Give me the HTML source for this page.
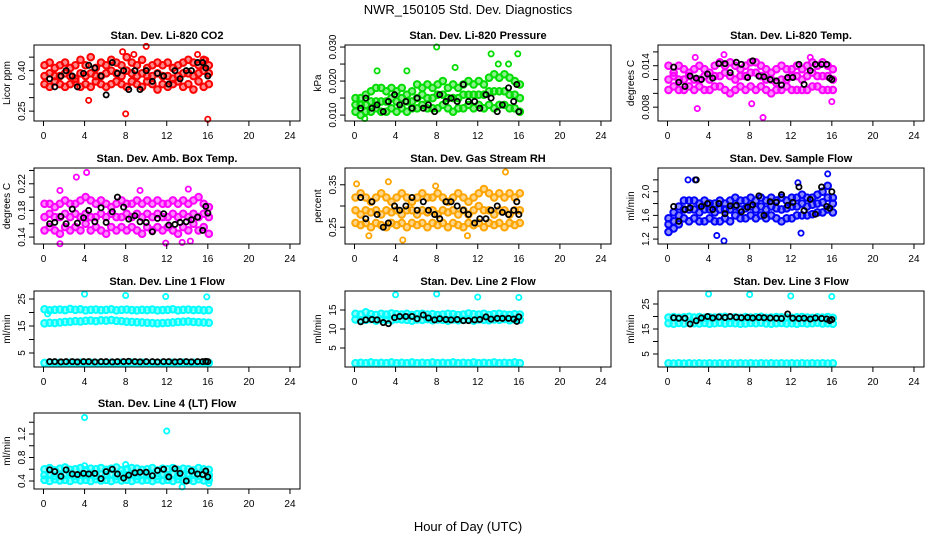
<!DOCTYPE html>
<html><head><meta charset="utf-8"><style>
html,body{margin:0;padding:0;background:#fff}
svg{display:block;font-family:"Liberation Sans",Arial,sans-serif}
</style></head><body>
<svg id="chart" width="936" height="540" viewBox="0 0 936 540">
<text x="468" y="14" text-anchor="middle" font-size="13">NWR_150105  Std. Dev. Diagnostics</text>
<text x="468" y="531" text-anchor="middle" font-size="13">Hour of Day (UTC)</text>
</svg>
<script>
const tA=[0.1,0.6,1.1,1.6,2.1,2.6,3.1,3.6,4.1,4.6,5.1,5.6,6.1,6.6,7.1,7.6,8.1,8.6,9.1,9.6,10.1,10.6,11.1,11.6,12.1,12.6,13.1,13.6,14.1,14.6,15.1,15.6,16.1];
const tK=[0.6,1.1,1.7,2.2,2.8,3.3,3.9,4.4,5.0,5.6,6.1,6.7,7.2,7.8,8.3,8.9,9.4,10.0,10.6,11.1,11.7,12.2,12.8,13.3,13.9,14.4,15.0,15.5,15.8,16.0];
const xTicks=[0,4,8,12,16,20,24];

const co2Hi=[0.42,0.43,0.41,0.42,0.43,0.41,0.42,0.44,0.42,0.45,0.41,0.43,0.42,0.44,0.43,0.42,0.45,0.43,0.42,0.44,0.41,0.42,0.43,0.42,0.43,0.41,0.42,0.43,0.44,0.43,0.42,0.44,0.42];
const co2Mid=[0.38,0.39,0.38,0.38,0.39,0.38,0.37,0.39,0.38,0.39,0.38,0.38,0.39,0.40,0.39,0.38,0.40,0.39,0.38,0.39,0.38,0.38,0.39,0.38,0.38,0.37,0.38,0.39,0.39,0.38,0.39,0.40,0.39];
const co2Lo=[0.35,0.34,0.36,0.35,0.34,0.35,0.36,0.34,0.35,0.34,0.36,0.35,0.34,0.35,0.36,0.35,0.34,0.36,0.35,0.34,0.36,0.35,0.33,0.35,0.34,0.35,0.36,0.34,0.35,0.33,0.36,0.34,0.35];
const co2Out=[[4.4,0.29],[8.0,0.24],[16.0,0.22],[10.0,0.49],[7.7,0.47],[8.8,0.46],[15.8,0.44],[15.0,0.46]];
const co2Blk=[0.37,0.34,0.38,0.40,0.38,0.34,0.39,0.42,0.41,0.38,0.31,0.43,0.39,0.40,0.33,0.40,0.33,0.40,0.36,0.39,0.38,0.35,0.40,0.37,0.40,0.40,0.43,0.43,0.41,0.38];

const prHi=[0.015,0.015,0.016,0.017,0.018,0.018,0.017,0.018,0.017,0.018,0.016,0.017,0.019,0.018,0.019,0.018,0.019,0.020,0.018,0.019,0.018,0.019,0.020,0.019,0.020,0.019,0.021,0.022,0.021,0.022,0.021,0.020,0.019];
const prMid=[0.013,0.013,0.013,0.014,0.014,0.014,0.014,0.015,0.014,0.015,0.014,0.014,0.015,0.016,0.015,0.015,0.016,0.016,0.015,0.015,0.015,0.016,0.016,0.016,0.016,0.016,0.017,0.017,0.017,0.017,0.016,0.016,0.015];
const prLo=[0.011,0.010,0.011,0.011,0.012,0.011,0.011,0.012,0.011,0.012,0.011,0.012,0.012,0.013,0.012,0.012,0.012,0.013,0.012,0.011,0.012,0.012,0.013,0.012,0.013,0.012,0.013,0.012,0.013,0.013,0.012,0.012,0.011];
const prOut=[[8.0,0.030],[13.3,0.028],[15.9,0.028],[14.0,0.025],[15.0,0.025],[2.2,0.023],[5.1,0.023],[9.8,0.024],[1.0,0.009]];
const prBlk=[0.012,0.015,0.012,0.013,0.011,0.014,0.016,0.013,0.014,0.012,0.015,0.012,0.013,0.011,0.016,0.014,0.015,0.014,0.019,0.014,0.014,0.012,0.016,0.015,0.011,0.013,0.018,0.014,0.019,0.011];

const ltHi=[0.014,0.013,0.014,0.0135,0.013,0.0135,0.014,0.0135,0.013,0.014,0.0145,0.014,0.0145,0.014,0.0135,0.014,0.0145,0.0145,0.014,0.0135,0.013,0.0135,0.014,0.0135,0.0135,0.014,0.0135,0.014,0.0145,0.014,0.0145,0.014,0.0135];
const ltMid=[0.012,0.0125,0.012,0.012,0.0125,0.012,0.012,0.0125,0.012,0.0125,0.0125,0.013,0.0125,0.012,0.0125,0.0125,0.013,0.013,0.0125,0.012,0.012,0.0115,0.012,0.012,0.0125,0.0125,0.012,0.0125,0.013,0.0125,0.0125,0.0125,0.012];
const ltLo=[0.0105,0.011,0.0105,0.0105,0.011,0.0105,0.011,0.0105,0.0105,0.011,0.011,0.0105,0.010,0.0105,0.011,0.0105,0.011,0.0105,0.011,0.0105,0.010,0.0105,0.0105,0.011,0.0105,0.0105,0.0105,0.0105,0.011,0.011,0.0105,0.0105,0.0105];
const ltOut=[[9.3,0.0065],[2.9,0.0078],[8.2,0.0085],[16.0,0.0088],[5.5,0.0156],[2.7,0.0152],[13.9,0.0152]];
const ltBlk=[0.0138,0.0116,0.0110,0.0125,0.0122,0.0120,0.0128,0.0122,0.0143,0.0143,0.0130,0.0145,0.0142,0.0123,0.0147,0.0125,0.0124,0.0120,0.0118,0.0112,0.0123,0.0123,0.0142,0.0113,0.0133,0.0142,0.0142,0.0142,0.0122,0.0120];

const abHi=[0.19,0.19,0.185,0.19,0.195,0.19,0.19,0.195,0.20,0.195,0.19,0.195,0.19,0.185,0.19,0.195,0.19,0.19,0.195,0.19,0.195,0.19,0.195,0.19,0.19,0.195,0.19,0.195,0.19,0.195,0.20,0.19,0.185];
const abMid=[0.17,0.175,0.17,0.17,0.175,0.17,0.175,0.17,0.175,0.17,0.17,0.175,0.17,0.175,0.17,0.17,0.175,0.17,0.175,0.17,0.175,0.17,0.175,0.17,0.17,0.175,0.17,0.175,0.17,0.175,0.17,0.175,0.17];
const abLo=[0.15,0.155,0.15,0.145,0.155,0.15,0.155,0.15,0.16,0.15,0.155,0.15,0.145,0.155,0.15,0.155,0.15,0.155,0.15,0.145,0.155,0.15,0.155,0.15,0.155,0.15,0.145,0.155,0.15,0.16,0.15,0.155,0.145];
const abOut=[[4.2,0.237],[3.2,0.23],[1.6,0.21],[9.4,0.21],[14.1,0.212],[1.6,0.13],[13.5,0.132],[11.9,0.131],[14.3,0.134]];
const abBlk=[0.160,0.162,0.171,0.160,0.182,0.161,0.169,0.180,0.163,0.184,0.162,0.178,0.200,0.185,0.167,0.172,0.163,0.162,0.148,0.168,0.175,0.158,0.159,0.162,0.163,0.166,0.170,0.150,0.186,0.176];

const rhHi=[0.32,0.33,0.32,0.31,0.32,0.33,0.32,0.31,0.32,0.33,0.32,0.31,0.32,0.33,0.32,0.32,0.33,0.32,0.31,0.32,0.33,0.32,0.31,0.32,0.33,0.34,0.33,0.32,0.33,0.32,0.33,0.32,0.33];
const rhMid=[0.29,0.28,0.29,0.285,0.29,0.28,0.29,0.285,0.29,0.28,0.29,0.29,0.28,0.29,0.285,0.29,0.28,0.29,0.285,0.29,0.28,0.29,0.28,0.29,0.30,0.29,0.29,0.28,0.29,0.29,0.28,0.29,0.29];
const rhLo=[0.26,0.255,0.26,0.25,0.26,0.255,0.25,0.26,0.255,0.26,0.25,0.26,0.255,0.26,0.25,0.26,0.255,0.26,0.25,0.26,0.255,0.25,0.26,0.255,0.26,0.25,0.26,0.255,0.26,0.25,0.26,0.255,0.26];
const rhOut=[[0.2,0.352],[3.3,0.357],[7.9,0.347],[14.7,0.38],[1.4,0.23],[4.7,0.22],[11.0,0.23]];
const rhBlk=[0.32,0.27,0.31,0.28,0.25,0.26,0.30,0.29,0.30,0.32,0.29,0.31,0.29,0.28,0.27,0.31,0.31,0.30,0.29,0.28,0.26,0.27,0.27,0.29,0.30,0.285,0.28,0.29,0.31,0.28];

const sfHi=[1.55,1.65,1.75,1.85,1.85,1.85,1.8,1.85,1.8,1.8,1.85,1.8,1.85,1.9,1.85,1.85,1.9,1.85,1.9,1.85,1.9,1.85,1.9,1.85,1.9,1.9,1.95,1.9,1.9,1.95,2.0,2.1,1.9];
const sfMid=[1.45,1.5,1.6,1.7,1.7,1.7,1.65,1.7,1.7,1.65,1.7,1.7,1.7,1.75,1.7,1.72,1.75,1.7,1.75,1.7,1.75,1.72,1.7,1.72,1.75,1.75,1.8,1.75,1.78,1.8,1.82,1.9,1.8];
const sfLo=[1.32,1.38,1.45,1.55,1.5,1.55,1.5,1.5,1.55,1.5,1.5,1.55,1.5,1.6,1.55,1.55,1.6,1.55,1.6,1.55,1.6,1.55,1.5,1.55,1.55,1.6,1.6,1.6,1.62,1.65,1.65,1.7,1.65];
const sfOut=[[2.0,2.2],[2.7,2.2],[5.5,1.17],[4.8,1.26],[13.0,1.3],[15.6,2.3],[12.7,2.15]];
const sfBlk=[1.75,1.5,1.70,1.73,2.20,1.75,1.80,1.70,1.80,1.63,1.76,1.77,1.66,1.74,1.78,1.93,1.60,1.83,1.82,1.95,1.77,1.82,2.08,1.68,1.87,1.62,2.08,1.75,1.72,2.00];

const l1Hi=[21.2,20.8,21.0,21.1,20.9,21.3,21.0,21.2,20.8,21.0,21.1,20.9,21.0,21.2,20.8,21.0,21.1,20.9,20.8,21.0,20.9,21.1,20.8,20.9,21.0,21.2,20.8,21.0,21.1,20.9,21.0,20.8,20.9];
const l1Mid=[16.0,16.2,16.1,16.3,16.5,16.6,16.8,16.7,16.9,17.0,16.8,17.1,17.0,17.2,16.9,16.8,16.6,16.5,16.4,16.3,16.2,16.1,16.0,16.1,16.2,16.3,16.5,16.6,16.7,16.5,16.4,16.3,16.2];
const l1Lo=[1.3,1.4,1.3,1.4,1.3,1.4,1.3,1.4,1.3,1.4,1.3,1.4,1.3,1.4,1.3,1.4,1.3,1.4,1.3,1.4,1.3,1.4,1.3,1.4,1.3,1.4,1.3,1.4,1.3,1.4,1.3,1.4,1.3];
const l1Out=[[4.0,26.8],[8.0,26.3],[11.9,25.9],[15.9,25.8],[0.4,19.5]];
const l1Blk=[1.8,1.8,1.7,1.8,1.8,1.7,1.8,1.8,1.7,1.8,1.8,1.7,1.8,1.8,1.9,1.8,1.7,1.8,1.8,1.7,1.8,1.8,1.7,1.8,1.8,1.7,1.8,1.8,1.9,1.8];

const l2Hi=[14.0,13.8,14.4,13.9,13.7,14.0,13.8,14.1,13.9,13.8,14.0,13.7,13.9,14.0,13.8,13.9,13.7,13.8,14.0,13.9,13.7,13.8,14.1,13.9,13.8,14.0,13.7,13.9,14.0,13.8,13.7,13.9,13.8];
const l2Lo=[12.5,12.3,12.4,12.6,12.2,12.5,12.4,12.3,12.6,12.5,12.4,12.2,12.5,12.4,12.6,12.3,12.5,12.4,12.2,12.5,12.3,12.4,12.6,12.2,12.5,12.4,12.3,12.5,12.4,12.6,12.3,12.5,12.4];
const l2Bot=[1.0,1.1,1.0,1.2,1.0,1.1,1.0,1.2,1.0,1.1,1.0,1.2,1.0,1.1,1.0,1.2,1.0,1.1,1.0,1.2,1.0,1.1,1.0,1.2,1.0,1.1,1.0,1.2,1.0,1.1,1.0,1.2,1.0];
const l2Out=[[4.0,19.0],[8.0,19.2],[12.0,18.4],[16.0,18.3]];
const l2Blk=[11.9,12.4,12.5,12.4,11.7,11.4,13.0,13.3,13.3,13.3,12.7,13.7,12.9,12.4,12.7,12.5,12.4,12.5,12.2,12.2,12.4,12.5,13.2,12.6,12.8,12.8,12.8,12.6,12.0,13.2];

const l3Hi=[19.6,19.8,19.5,19.7,19.9,19.6,19.8,19.5,19.7,19.6,19.8,19.9,19.6,19.7,19.5,19.8,19.6,19.7,19.9,19.5,19.6,19.8,19.7,19.6,19.5,19.7,19.8,19.6,19.5,19.7,19.6,19.8,19.5];
const l3Lo=[17.3,17.1,17.4,17.2,17.5,17.3,17.2,17.4,17.1,17.3,17.5,17.2,17.4,17.3,17.1,17.2,17.4,17.3,17.5,17.2,17.1,17.3,17.4,17.2,17.3,17.1,17.4,17.2,17.3,17.5,17.2,17.3,17.1];
const l3Bot=[1.3,1.2,1.3,1.2,1.3,1.2,1.3,1.2,1.3,1.2,1.3,1.2,1.3,1.2,1.3,1.2,1.3,1.2,1.3,1.2,1.3,1.2,1.3,1.2,1.3,1.2,1.3,1.2,1.3,1.2,1.3,1.2,1.3];
const l3Out=[[4.0,29.0],[8.0,28.8],[12.0,28.2],[16.0,28.0]];
const l3Blk=[19.5,19.3,19.3,17.0,18.3,19.4,20.0,19.4,19.8,19.6,20.0,19.7,19.5,19.6,19.4,19.6,19.5,19.4,19.3,19.2,21.0,19.3,19.2,19.3,19.0,19.4,19.2,19.0,18.4,18.8];

const l4Hi=[0.60,0.62,0.58,0.61,0.63,0.59,0.60,0.62,0.58,0.61,0.60,0.62,0.59,0.61,0.63,0.58,0.60,0.62,0.61,0.59,0.60,0.62,0.58,0.61,0.60,0.62,0.59,0.61,0.60,0.58,0.62,0.60,0.59];
const l4Mid=[0.50,0.52,0.49,0.51,0.50,0.52,0.49,0.51,0.50,0.52,0.49,0.51,0.50,0.52,0.49,0.51,0.50,0.52,0.49,0.51,0.50,0.52,0.49,0.51,0.50,0.52,0.49,0.51,0.50,0.52,0.49,0.51,0.50];
const l4Lo=[0.42,0.40,0.43,0.41,0.42,0.40,0.43,0.41,0.42,0.40,0.43,0.41,0.42,0.40,0.43,0.41,0.42,0.40,0.43,0.41,0.42,0.40,0.43,0.41,0.42,0.40,0.43,0.41,0.42,0.40,0.43,0.41,0.42];
const l4Out=[[4.0,1.48],[12.0,1.25],[13.5,0.30],[16.1,0.36],[8.0,0.68],[4.0,0.66]];
const l4Blk=[0.59,0.56,0.48,0.59,0.52,0.51,0.53,0.52,0.53,0.44,0.56,0.60,0.52,0.45,0.50,0.54,0.55,0.55,0.49,0.58,0.60,0.47,0.61,0.53,0.40,0.57,0.52,0.51,0.57,0.47];

const panels=[
 {name:'co2',title:'Stan. Dev. Li-820 CO2',ylab:'Licor ppm',col:0,row:0,dom:[0.2134,0.495],ticks:[0.25,0.30,0.35,0.40,0.45],labels:['0.25','','','0.40',''],color:'#ff0000',rows:[co2Hi,co2Mid,co2Lo],out:co2Out,blk:co2Blk},
 {name:'pressure',title:'Stan. Dev. Li-820 Pressure',ylab:'kPa',col:1,row:0,dom:[0.00826,0.0306],ticks:[0.010,0.015,0.020,0.025,0.030],labels:['0.010','','0.020','','0.030'],color:'#00dd00',rows:[prHi,prMid,prLo],out:prOut,blk:prBlk},
 {name:'li-temp',title:'Stan. Dev. Li-820 Temp.',ylab:'degrees C',col:2,row:0,dom:[0.006,0.017],ticks:[0.008,0.010,0.012,0.014,0.016],labels:['0.008','','','0.014',''],color:'#ff00ff',rows:[ltHi,ltMid,ltLo],out:ltOut,blk:ltBlk},
 {name:'amb-box-temp',title:'Stan. Dev. Amb. Box Temp.',ylab:'degrees C',col:0,row:1,dom:[0.1296,0.2437],ticks:[0.14,0.16,0.18,0.20,0.22,0.24],labels:['0.14','','0.18','','0.22',''],color:'#ff00ff',rows:[abHi,abMid,abLo],out:abOut,blk:abBlk},
 {name:'gas-rh',title:'Stan. Dev. Gas Stream RH',ylab:'percent',col:1,row:1,dom:[0.2105,0.3895],ticks:[0.25,0.30,0.35],labels:['0.25','','0.35'],color:'#ffa500',rows:[rhHi,rhMid,rhLo],out:rhOut,blk:rhBlk},
 {name:'sample-flow',title:'Stan. Dev. Sample Flow',ylab:'ml/min',col:2,row:1,dom:[1.117,2.4],ticks:[1.2,1.4,1.6,1.8,2.0,2.2],labels:['1.2','','1.6','','2.0',''],color:'#0000ff',rows:[sfHi,sfMid,sfLo],out:sfOut,blk:sfBlk},
 {name:'line1-flow',title:'Stan. Dev. Line 1 Flow',ylab:'ml/min',col:0,row:2,dom:[-0.19,27.96],ticks:[5,10,15,20,25],labels:['5','','15','','25'],color:'#00ffff',rows:[l1Hi,l1Mid,l1Lo],out:l1Out,blk:l1Blk},
 {name:'line2-flow',title:'Stan. Dev. Line 2 Flow',ylab:'ml/min',col:1,row:2,dom:[0,20],ticks:[5,10,15],labels:['5','10','15'],color:'#00ffff',rows:[l2Hi,l2Lo,l2Bot],out:l2Out,blk:l2Blk},
 {name:'line3-flow',title:'Stan. Dev. Line 3 Flow',ylab:'ml/min',col:2,row:2,dom:[-0.2,30.2],ticks:[5,10,15,20,25],labels:['5','','15','','25'],color:'#00ffff',rows:[l3Hi,l3Lo,l3Bot],out:l3Out,blk:l3Blk},
 {name:'line4-flow',title:'Stan. Dev. Line 4 (LT) Flow',ylab:'ml/min',col:0,row:3,dom:[0.264,1.557],ticks:[0.4,0.6,0.8,1.0,1.2,1.4],labels:['0.4','','0.8','','1.2',''],color:'#00ffff',rows:[l4Hi,l4Mid,l4Lo],out:l4Out,blk:l4Blk}
];

const NS='http://www.w3.org/2000/svg';
const svg=document.getElementById('chart');
const colL=[34,345,658], rowT=[45,168,291,413], W=266, H=76;
function mk(tag,attrs,parent){const e=document.createElementNS(NS,tag);for(const k in attrs)e.setAttribute(k,attrs[k]);parent.appendChild(e);return e;}

panels.forEach(p=>{
  const L=colL[p.col], T=rowT[p.row];
  const xs=h=>L+9.5+h*10.27;
  const ys=v=>T+H-(v-p.dom[0])/(p.dom[1]-p.dom[0])*H;
  const g=mk('g',{},svg);
  
  
  const tt=mk('text',{x:L+W/2,y:T-6,'text-anchor':'middle','font-size':'11','font-weight':'bold'},g);
  tt.textContent=p.title;
  
  
  const pts=mk('g',{fill:p.color,'fill-opacity':'0.45',stroke:p.color,'stroke-width':'2'},g);
  
  
  p.rows.forEach(r=>r.forEach((v,i)=>{
    const c=mk('circle',{cx:xs(tA[i]),cy:ys(v),r:3.3},pts);
    
    
  }));
  const po=mk('g',{fill:'none',stroke:p.color,'stroke-width':'1.8'},g);
  
  
  p.out.forEach(o=>{
    const c=mk('circle',{cx:xs(o[0]),cy:ys(o[1]),r:2.6},po);
    
    
  });
  const bk=mk('g',{fill:'none',stroke:'#000','stroke-width':'1.8'},g);
  
  
  p.blk.forEach((v,i)=>{
    const c=mk('circle',{cx:xs(tK[i]),cy:ys(v),r:2.6},bk);
    
    
  });
  const bx=mk('rect',{x:L,y:T,width:W,height:H,fill:'none',stroke:'#000','stroke-width':'1'},g);
  
  
  const xa=mk('g',{stroke:'#000','stroke-width':'1'},g);
  
  
  mk('line',{x1:xs(0),x2:xs(24),y1:T+H,y2:T+H},xa);
  xTicks.forEach(h=>{
    mk('line',{x1:xs(h),x2:xs(h),y1:T+H,y2:T+H+5},xa);
    const t=mk('text',{x:xs(h),y:T+H+18,'text-anchor':'middle','font-size':'10',stroke:'none',fill:'#000'},xa);
    t.textContent=String(h);
    
    
  });
  const ya=mk('g',{stroke:'#000','stroke-width':'1'},g);
  
  
  const tks=p.ticks.filter(v=>ys(v)>=T-1&&ys(v)<=T+H+1);
  mk('line',{x1:L,x2:L,y1:ys(tks[0]),y2:ys(tks[tks.length-1])},ya);
  p.ticks.forEach((v,i)=>{
    const y=ys(v); if(y<T-1||y>T+H+1)return;
    mk('line',{x1:L-5,x2:L,y1:y,y2:y},ya);
    if(p.labels[i]){
      const t=mk('text',{x:L-9,y:y,'text-anchor':'middle','font-size':'10',stroke:'none',fill:'#000',transform:`rotate(-90 ${L-9} ${y})`},ya);
      t.textContent=p.labels[i];
      
      
    }
  });
  const yl=mk('text',{x:L-24,y:T+H/2,'text-anchor':'middle','font-size':'10',transform:`rotate(-90 ${L-24} ${T+H/2})`},g);
  yl.textContent=p.ylab;
  
  
});
</script>
</body></html>
